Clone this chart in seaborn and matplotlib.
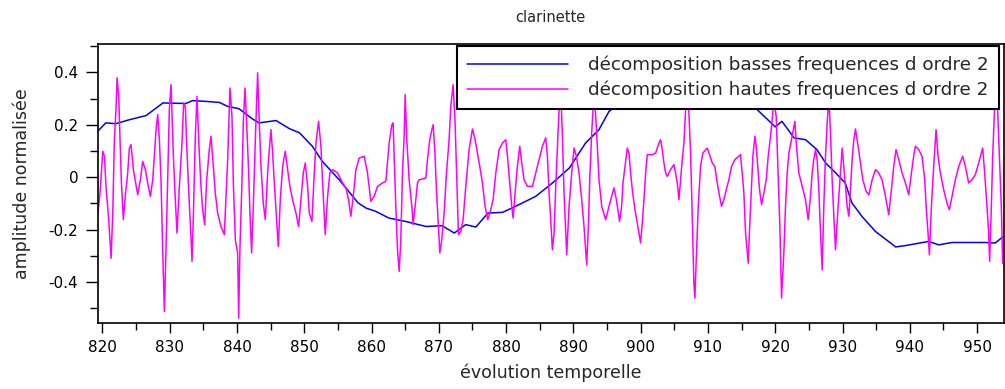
import matplotlib
matplotlib.use("Agg")
import matplotlib.pyplot as plt
import seaborn as sns
import pandas as pd
from matplotlib.ticker import MultipleLocator, FuncFormatter

title = "clarinette"
xlabel = "évolution temporelle"
ylabel = "amplitude normalisée"
label_low = "décomposition basses frequences d ordre 2"
label_high = "décomposition hautes frequences d ordre 2"

# low-frequency decomposition (blue)
low_t = [819.3, 820.5, 822.0, 824.0, 826.5, 829.0, 832.4, 833.4, 835.4, 837.4, 838.6,
         840.3, 842.3, 843.3, 845.8, 847.8, 849.3, 851.2, 852.7, 855.2, 858.0, 859.2,
         860.6, 862.6, 865.1, 868.1, 870.5, 872.3, 874.0, 875.5, 877.3, 879.5, 881.9,
         884.4, 886.9, 889.4, 891.8, 893.8, 895.3, 897.0, 900.0, 903.0, 906.0, 909.0,
         912.0, 915.0, 917.3, 920.0, 921.0, 922.8, 924.5, 926.2, 927.5, 929.0, 930.4,
         931.4, 932.9, 934.9, 937.9, 939.3, 942.8, 944.3, 946.3, 951.2, 952.7, 953.9]
low_v = [0.175, 0.207, 0.204, 0.219, 0.235, 0.283, 0.281, 0.292, 0.289, 0.285, 0.270,
         0.261, 0.222, 0.207, 0.216, 0.185, 0.169, 0.118, 0.060, -0.010, -0.098, -0.118,
         -0.130, -0.156, -0.169, -0.188, -0.185, -0.213, -0.181, -0.190, -0.137, -0.134, -0.105,
         -0.073, -0.022, 0.035, 0.130, 0.181, 0.251, 0.285, 0.315, 0.330, 0.335, 0.330,
         0.315, 0.290, 0.258, 0.192, 0.213, 0.150, 0.143, 0.105, 0.054, 0.016, -0.022,
         -0.098, -0.150, -0.207, -0.266, -0.261, -0.245, -0.258, -0.249, -0.249, -0.251, -0.226]

# high-frequency decomposition (magenta)
high_t = [
    819.31, 819.65, 820.05, 820.30, 820.55, 820.94, 821.29, 821.54, 821.78, 822.03,
    822.18, 822.43, 822.62, 822.82, 823.12, 823.42, 823.76, 824.01, 824.26, 824.60,
    825.00, 825.25, 825.64, 825.99, 826.39, 826.73, 827.13, 827.48, 827.72, 827.97,
    828.22, 828.47, 828.71, 828.96, 829.21, 829.46, 829.70, 829.95, 830.20, 830.55,
    830.84, 831.09, 831.44, 831.83, 832.08, 832.33, 832.53, 832.82, 833.17, 833.32,
    833.52, 833.81, 834.06, 834.31, 834.65, 834.90, 835.20, 835.50, 835.89, 836.14,
    836.49, 836.78, 837.13, 837.62, 838.12,
    838.62, 838.96, 839.26, 839.46, 839.76, 840.10, 840.25, 840.45, 840.75, 840.94,
    841.19, 841.44, 841.74, 841.93, 842.18, 842.43, 842.73, 843.07, 843.32, 843.57,
    843.91, 844.21, 844.56, 844.81, 845.05, 845.30, 845.55, 845.80, 846.14, 846.44,
    846.79, 847.18, 847.53, 847.87, 848.27, 848.77, 849.16, 849.51, 849.86, 850.15,
    850.50, 850.75, 851.14, 851.44, 851.74, 852.13, 852.48, 852.73, 853.12, 853.47,
    853.81, 854.21, 854.95, 855.70, 856.19, 856.59, 856.93, 857.28, 857.68,
    858.17, 858.91, 859.40, 859.90, 860.39, 860.89, 861.63, 862.13, 862.37, 862.62,
    863.02, 863.21, 863.36, 863.61, 863.86, 864.11, 864.35, 864.60, 864.85, 865.00,
    865.24, 865.59, 865.99, 866.18, 866.58, 866.83, 867.08, 868.07, 868.31, 868.66,
    868.96, 869.16, 869.40, 869.65, 869.95, 870.15, 870.44, 870.79, 871.14, 871.53,
    871.78, 872.13, 872.42, 872.67, 872.92, 873.26, 873.61, 874.01, 874.50, 875.00,
    875.39, 875.74, 876.09, 876.48, 876.88, 877.27,
    877.72, 878.07, 878.47, 878.96, 879.46, 879.95, 880.20, 880.54, 880.84, 881.04,
    881.34, 881.68, 882.03, 882.33, 882.67, 883.17, 883.91, 884.41, 884.90, 885.40,
    885.89, 886.14, 886.39, 886.63, 886.88, 887.13, 887.38, 887.62, 887.87, 888.12,
    888.37, 888.61, 888.86, 889.01, 889.36, 889.75, 890.10, 890.45, 890.84, 891.24,
    891.58, 891.98, 892.23, 892.43, 892.72, 892.92, 893.12, 893.32, 893.56, 893.81,
    894.21, 894.80, 895.30, 895.69, 896.04, 896.39,
    896.87, 897.17, 897.37, 897.67, 898.01, 898.26, 898.51, 898.76, 899.15, 899.50,
    899.99, 900.24, 900.49, 900.74, 900.98, 901.73, 902.22, 902.72, 902.96, 903.21,
    903.46, 903.71, 903.95, 904.45, 904.94, 905.19, 905.44, 905.69, 905.93, 906.18,
    906.43, 906.68, 906.92, 907.17, 907.42, 907.67, 907.91, 908.06, 908.26, 908.56,
    908.90, 909.25, 909.89, 910.24, 910.64, 911.03, 911.38, 911.73, 912.02, 912.37,
    912.72, 913.11, 913.51, 914.00, 914.84, 915.09, 915.34, 915.59,
    915.99, 916.18, 916.48, 916.68, 916.98, 917.17, 917.47, 917.67, 917.97, 918.31,
    918.66, 918.96, 919.30, 919.55, 919.80, 920.14, 920.44, 920.69, 920.94, 921.28,
    921.53, 921.78, 922.03, 922.42, 922.92, 923.16, 923.51, 924.01, 924.50, 924.90,
    925.24, 925.49, 925.74, 925.99, 926.23, 926.48, 926.73, 926.98, 927.22, 927.47,
    927.72, 927.97, 928.21, 928.46, 928.71, 928.96, 929.35, 929.70, 929.95, 930.19,
    930.44, 930.69, 930.94, 931.18, 931.43, 931.68, 931.93, 932.32, 932.67, 933.02,
    933.51, 933.91, 934.40, 934.90,
    935.39, 935.88, 936.38, 936.87, 937.27, 937.61, 937.96, 938.36, 938.85, 939.35,
    939.84, 940.24, 940.58, 940.83, 941.33, 941.82, 942.22, 942.46, 942.71, 942.91,
    943.21, 943.55, 943.90, 944.20, 944.54, 945.04, 945.53, 945.88, 946.28, 946.77,
    947.27, 947.86, 948.26, 948.75, 949.25, 949.74, 950.24, 950.63, 950.83, 951.13,
    951.47, 951.72, 951.87, 952.12, 952.32, 952.61, 952.86, 953.31, 953.60, 953.80,
    954.00]
high_v = [
    -0.143, -0.060, 0.099, 0.080, -0.041, -0.162, -0.309, -0.137, 0.143, 0.264,
    0.379, 0.308, 0.143, -0.016, -0.162, -0.067, 0.016, 0.111, 0.124, 0.029,
    -0.029, -0.067, -0.010, 0.060, 0.029, -0.022, -0.073, -0.010, 0.080, 0.181,
    0.239, 0.143, -0.010, -0.277, -0.512, -0.270, -0.010, 0.257, 0.353, 0.080,
    -0.086, -0.213, -0.035, 0.130, 0.283, 0.270, 0.124, -0.048, -0.232, -0.321,
    -0.149, 0.156, 0.308, 0.143, -0.035, -0.124, -0.181, -0.010, 0.105, 0.156,
    0.041, -0.060, -0.137, -0.188, -0.219,
    0.067, 0.340, 0.232, -0.022, -0.239, -0.289, -0.537, -0.264, -0.010, 0.207,
    0.340, 0.207, 0.016, -0.137, -0.289, -0.111, 0.143, 0.398, 0.207, 0.041,
    -0.099, -0.162, 0.016, 0.105, 0.181, 0.092, -0.022, -0.124, -0.264, -0.086,
    0.041, 0.099, 0.029, -0.035, -0.086, -0.137, -0.188, -0.086, 0.016, 0.054,
    -0.035, -0.137, -0.169, -0.010, 0.130, 0.213, 0.118, -0.022, -0.219, -0.073,
    0.016, 0.029, 0.016, -0.022, -0.041, -0.086, -0.149, -0.073, 0.029,
    0.073, 0.080, 0.016, -0.092, -0.073, -0.035, -0.022, -0.016, 0.054, 0.130,
    0.200, 0.207, 0.080, -0.111, -0.277, -0.359, -0.239, 0.016, 0.156, 0.315,
    0.143, -0.010, -0.111, -0.181, -0.086, -0.022, -0.010, -0.003, 0.067, 0.143,
    0.181, 0.200, 0.105, -0.048, -0.188, -0.289, -0.239, -0.137, 0.016, 0.143,
    0.270, 0.353, 0.207, -0.010, -0.219, -0.207, -0.162, -0.035, 0.105, 0.184,
    0.143, 0.092, 0.041, -0.022, -0.111, -0.162,
    -0.124, -0.086, 0.016, 0.105, 0.130, 0.143, 0.080, -0.022, -0.111, -0.156,
    -0.060, 0.041, 0.118, 0.054, -0.010, -0.035, -0.035, 0.016, 0.067, 0.118,
    0.150, 0.080, -0.060, -0.162, -0.277, -0.213, -0.035, 0.105, 0.257, 0.334,
    0.156, -0.060, -0.213, -0.296, -0.111, 0.016, 0.111, 0.080, 0.016, -0.086,
    -0.188, -0.334, -0.188, -0.010, 0.169, 0.257, 0.308, 0.232, 0.118, -0.010,
    -0.111, -0.162, -0.111, -0.073, -0.041, -0.086,
    -0.169, -0.111, -0.022, 0.041, 0.111, 0.092, 0.016, -0.048, -0.124, -0.175,
    -0.251, -0.175, -0.086, 0.016, 0.086, 0.086, 0.092, 0.130, 0.143, 0.105,
    0.054, 0.016, 0.003, 0.029, 0.048, 0.016, -0.022, -0.086, -0.010, 0.067,
    0.130, 0.257, 0.347, 0.245, 0.092, -0.149, -0.404, -0.461, -0.315, -0.111,
    0.041, 0.092, 0.111, 0.086, 0.054, 0.041, -0.022, -0.073, -0.111, -0.086,
    -0.048, -0.010, 0.041, 0.067, 0.086, 0.016, -0.060, -0.213,
    -0.328, -0.200, -0.035, 0.080, 0.156, 0.118, 0.016, -0.048, -0.105, -0.060,
    -0.010, 0.080, 0.156, 0.219, 0.296, 0.232, 0.003, -0.188, -0.461, -0.289,
    -0.111, 0.016, 0.092, 0.143, 0.213, 0.118, 0.016, -0.035, -0.086, -0.162,
    -0.073, 0.016, 0.067, 0.105, 0.067, -0.048, -0.213, -0.353, -0.111, 0.080,
    0.207, 0.308, 0.169, -0.010, -0.149, -0.277, -0.111, 0.016, 0.111, 0.041,
    -0.035, -0.111, -0.149, -0.048, 0.067, 0.143, 0.184, 0.118, 0.054, -0.010,
    -0.054, -0.067, -0.010, 0.029,
    0.016, -0.010, -0.073, -0.143, -0.048, 0.041, 0.105, 0.067, 0.016, -0.022,
    -0.067, 0.016, 0.080, 0.118, 0.105, 0.080, -0.010, -0.124, -0.213, -0.296,
    -0.111, 0.041, 0.181, 0.080, 0.016, -0.048, -0.099, -0.124, -0.073, -0.010,
    0.041, 0.080, 0.041, -0.022, -0.010, 0.010, 0.054, 0.092, 0.111, 0.016,
    -0.111, -0.213, -0.321, -0.111, 0.080, 0.270, 0.385, 0.080, -0.111, -0.328,
    -0.239]

sns.set_style("white")
plt.rcParams['font.family'] = ['DejaVu Sans']

df_low = pd.DataFrame({"t": low_t, "v": low_v})
df_high = pd.DataFrame({"t": high_t, "v": high_v})

fig = plt.figure(figsize=(10.05, 3.89), dpi=100)
ax = fig.add_axes([0.0972, 0.169, 0.9018, 0.718])

sns.lineplot(data=df_low, x="t", y="v", color="#0000ff", lw=1.1, label=label_low,
             ax=ax, estimator=None, sort=False)
sns.lineplot(data=df_high, x="t", y="v", color="#ff00ff", lw=1.1, label=label_high,
             ax=ax, estimator=None, sort=False)

ax.set_xlim(819.3, 954.0)
ax.set_ylim(-0.557, 0.508)

ax.xaxis.set_major_locator(MultipleLocator(10))
ax.xaxis.set_minor_locator(MultipleLocator(5))
ax.yaxis.set_major_locator(MultipleLocator(0.2))
ax.yaxis.set_minor_locator(MultipleLocator(0.1))
ax.yaxis.set_major_formatter(FuncFormatter(lambda v, _: "0" if abs(v) < 1e-9 else f"{v:.1f}"))
ax.xaxis.set_major_formatter(FuncFormatter(lambda v, _: f"{v:.0f}"))

ax.tick_params(which="both", direction="out", colors="black", width=1.0,
               bottom=True, left=True, top=False, right=False, labelsize=11)
ax.tick_params(axis="x", which="major", length=7.2, pad=5)
ax.tick_params(axis="x", which="minor", length=4.8)
ax.tick_params(axis="y", which="major", length=9.0, pad=5)
ax.tick_params(axis="y", which="minor", length=5.5)
for s in ax.spines.values():
    s.set_visible(True)
    s.set_color("black")
    s.set_linewidth(1.2)

ax.set_title(title, fontsize=10.5, pad=16)
ax.set_xlabel(xlabel, fontsize=12.5, labelpad=6)
ax.set_ylabel(ylabel, fontsize=12.5, labelpad=13)

leg = ax.legend(loc="upper right", bbox_to_anchor=(0.9945, 0.993), fontsize=13.2,
                frameon=True, fancybox=False, framealpha=1.0, edgecolor="black",
                handlelength=5.5, handletextpad=1.1, labelspacing=0.35, borderpad=0.55,
                borderaxespad=0.0)
leg.get_frame().set_linewidth(1.5)

fig.savefig("out.png", dpi=100)
